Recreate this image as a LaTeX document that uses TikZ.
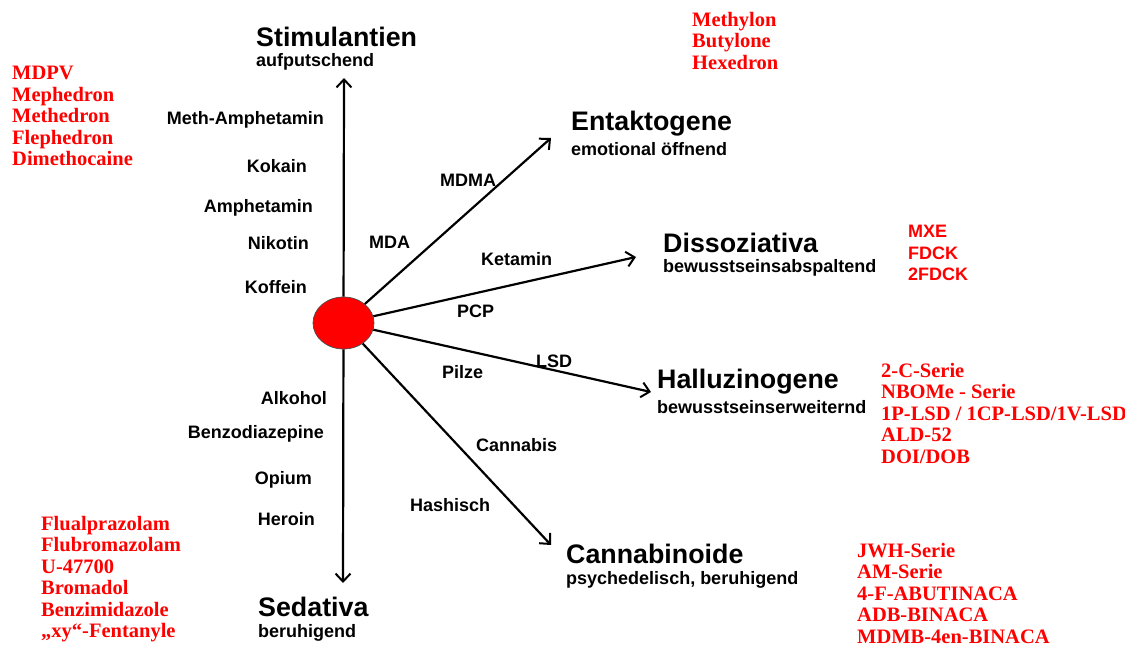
\documentclass[tikz,border=0pt]{standalone}
\usepackage{fontspec}
\setmainfont{Liberation Serif}
\setsansfont{Liberation Sans}
\usetikzlibrary{arrows.meta,shapes.geometric}

\definecolor{drugred}{RGB}{255,0,0}

\tikzset{
	arr/.style={line width=2.2pt, -{Straight Barb[length=8pt,width=15pt,line width=2pt]}},
	classtitle/.style={anchor=west, inner sep=0pt, font=\sffamily\bfseries\fontsize{26.8}{30}\selectfont},
	classsub/.style={anchor=west, inner sep=0pt, font=\sffamily\bfseries\fontsize{18}{21}\selectfont},
	lbl/.style={inner sep=0pt, font=\sffamily\bfseries\fontsize{18}{21}\selectfont},
	redlist/.style={anchor=north west, inner sep=0pt, align=left, text=drugred, font=\bfseries\fontsize{20.5}{21.5}\selectfont},
	redsans/.style={anchor=north west, inner sep=0pt, align=left, text=drugred, font=\sffamily\bfseries\fontsize{18}{21.6}\selectfont}
}

\begin{document}
\begin{tikzpicture}[x=1pt, y=-1pt]
				\useasboundingbox (0,0) rectangle (1125,647);
				% centre
				\node[draw=black!70, line width=0.7pt, ellipse, fill=drugred, minimum width=61pt, minimum height=52pt, inner sep=0pt] (hub)at(343.5, 323) {};

				% arrow ends
				\coordinate (tipS)at(344, 78);
				\coordinate (tipE)at(551, 138);
				\coordinate (tipD)at(636, 257);
				\coordinate (tipH)at(651, 392);
				\coordinate (tipC)at(551, 545);
				\coordinate (tipB)at(343, 583);
				\draw[arr] (hub) -- (tipS);
				\draw[arr] (hub) -- (tipE);
				\draw[arr] (hub) -- (tipD);
				\draw[arr] (hub) -- (tipH);
				\draw[arr] (hub) -- (tipC);
				\draw[arr] (hub) -- (tipB);

				% classes
				\node[classtitle] (stim)at(256, 37) {Stimulantien};
				\node[classsub] (stimS)at(256, 62) {aufputschend};
				\node[classtitle] (ent)at(571, 124) {Entaktogene};
				\node[classsub] (entS)at(571, 149) {emotional öffnend};
				\node[classtitle] (dis)at(663, 243) {Dissoziativa};
				\node[classsub] (disS)at(663, 268) {bewusstseinsabspaltend};
				\node[classtitle] (hal)at(657, 382) {Halluzinogene};
				\node[classsub] (halS)at(657, 407) {bewusstseinserweiternd};
				\node[classtitle] (can)at(566, 554) {Cannabinoide};
				\node[classsub] (canS)at(566, 580) {psychedelisch, beruhigend};
				\node[classtitle] (sed)at(258, 607) {Sedativa};
				\node[classsub] (sedS)at(258, 633) {beruhigend};

				% substances along the arrows
				\node[lbl, anchor=east] (methamph)at(324, 120) {Meth-Amphetamin};
				\node[lbl, anchor=east] (kokain)at(307, 166) {Kokain};
				\node[lbl, anchor=east] (amph)at(313, 208) {Amphetamin};
				\node[lbl, anchor=east] (nikotin)at(309, 243) {Nikotin};
				\node[lbl, anchor=east] (koffein)at(307, 287) {Koffein};
				\node[lbl, anchor=west] (mda)at(369, 242) {MDA};
				\node[lbl, anchor=west] (mdma)at(440, 180) {MDMA};
				\node[lbl, anchor=west] (ketamin)at(481, 259) {Ketamin};
				\node[lbl, anchor=west] (pcp)at(457, 311) {PCP};
				\node[lbl, anchor=west] (lsd)at(536, 361) {LSD};
				\node[lbl, anchor=west] (pilze)at(442, 372) {Pilze};
				\node[lbl, anchor=west] (cannabis)at(476, 445) {Cannabis};
				\node[lbl, anchor=west] (hashisch)at(410, 505) {Hashisch};
				\node[lbl, anchor=east] (alkohol)at(327, 398) {Alkohol};
				\node[lbl, anchor=east] (benzo)at(324, 434) {Benzodiazepine};
				\node[lbl, anchor=east] (opium)at(312, 480) {Opium};
				\node[lbl, anchor=east] (heroin)at(315, 519) {Heroin};

				% new substances
				\node[redlist] (newStim)at(12, 66) {MDPV\\Mephedron\\Methedron\\Flephedron\\Dimethocaine};
				\node[redlist] (newEnt)at(692, 12) {Methylon\\Butylone\\Hexedron};
				\node[redsans] (newDis)at(908, 225) {MXE\\FDCK\\2FDCK};
				\node[redlist] (newHal)at(881, 363) {2-C-Serie\\NBOMe - Serie\\1P-LSD / 1CP-LSD/1V-LSD\\ALD-52\\DOI/DOB};
				\node[redlist] (newCan)at(857, 543) {JWH-Serie\\AM-Serie\\4-F-ABUTINACA\\ADB-BINACA\\MDMB-4en-BINACA};
				\node[redlist] (newSed)at(41, 516) {Flualprazolam\\Flubromazolam\\U-47700\\Bromadol\\Benzimidazole\\„xy“-Fentanyle};
			\end{tikzpicture}
\end{document}
